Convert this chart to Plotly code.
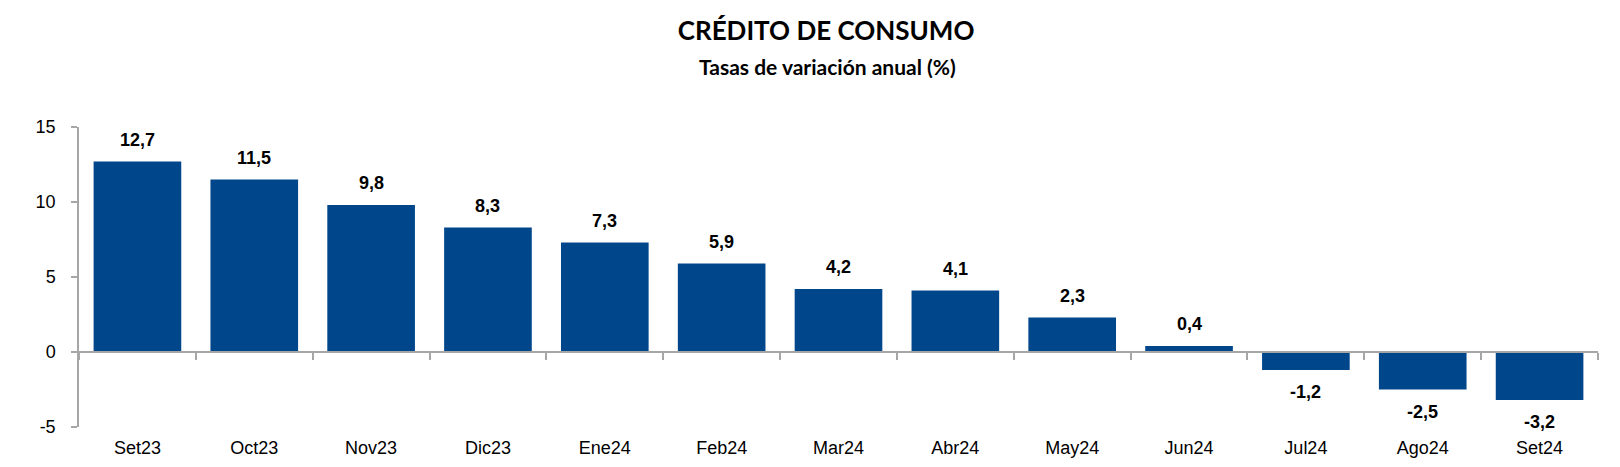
import plotly.graph_objects as go

categories = ["Set23", "Oct23", "Nov23", "Dic23", "Ene24", "Feb24", "Mar24",
              "Abr24", "May24", "Jun24", "Jul24", "Ago24", "Set24"]
values = [12.7, 11.5, 9.8, 8.3, 7.3, 5.9, 4.2, 4.1, 2.3, 0.4, -1.2, -2.5, -3.2]
y_ticks = [-5, 0, 5, 10, 15]
y_tick_labels = ["-5", "0", "5", "10", "15"]

BAR = "#00468B"
AXIS = "#A6A6A6"
FONT = "Liberation Sans, Arial"

fig = go.Figure()
fig.add_trace(go.Bar(x=categories, y=values, marker_color=BAR,
                     marker_line_width=0, xaxis="x", yaxis="y",
                     hoverinfo="skip"))
# invisible trace to carry the axis line drawn at zero
fig.add_trace(go.Bar(x=categories, y=[0] * len(categories), xaxis="x2", yaxis="y",
                     marker_color="rgba(0,0,0,0)", hoverinfo="skip", showlegend=False))

for c, v in zip(categories, values):
    fig.add_annotation(x=c, y=v, text="<b>" + f"{v:.1f}".replace(".", ",") + "</b>",
                       showarrow=False, yshift=22 if v >= 0 else -22,
                       yanchor="middle",
                       font=dict(family=FONT, size=18, color="#000"))

fig.update_layout(
    width=1620, height=467,
    margin=dict(l=71, r=30, t=119, b=48),
    paper_bgcolor="white", plot_bgcolor="white",
    showlegend=False, bargap=0.25, barmode="overlay",
    title=dict(text="<b>CRÉDITO DE CONSUMO</b>", x=0.505, xanchor="center",
               y=0.952, yanchor="middle",
               font=dict(family="Lato, Open Sans", size=26, color="#000")),
    xaxis=dict(type="category", showline=False, ticks="", showgrid=False,
               zeroline=False, ticklabelstandoff=8,
               tickfont=dict(family=FONT, size=18, color="#000")),
    xaxis2=dict(type="category", overlaying="x", matches="x", anchor="free",
                position=0.25, side="bottom", showline=True, linecolor=AXIS,
                linewidth=1.5, ticks="outside", tickson="boundaries", ticklen=7,
                tickcolor=AXIS, tickwidth=1.5, showticklabels=False, showgrid=False,
                zeroline=False),
    yaxis=dict(range=[-5, 15], tickvals=y_ticks, ticktext=y_tick_labels,
               showline=True, linecolor=AXIS,
               linewidth=1.5, ticks="outside", ticklen=6, tickcolor=AXIS,
               tickwidth=1.5, showgrid=False, zeroline=False, ticklabelstandoff=12,
               tickfont=dict(family=FONT, size=18, color="#000")),
)
fig.add_annotation(text="<b>Tasas de variación anual (%)</b>", xref="paper", yref="paper",
                   x=0.4925, y=1.0, yshift=61, yanchor="middle", showarrow=False,
                   font=dict(family="Lato, Open Sans", size=21, color="#000"))

fig.write_html("out.html")
